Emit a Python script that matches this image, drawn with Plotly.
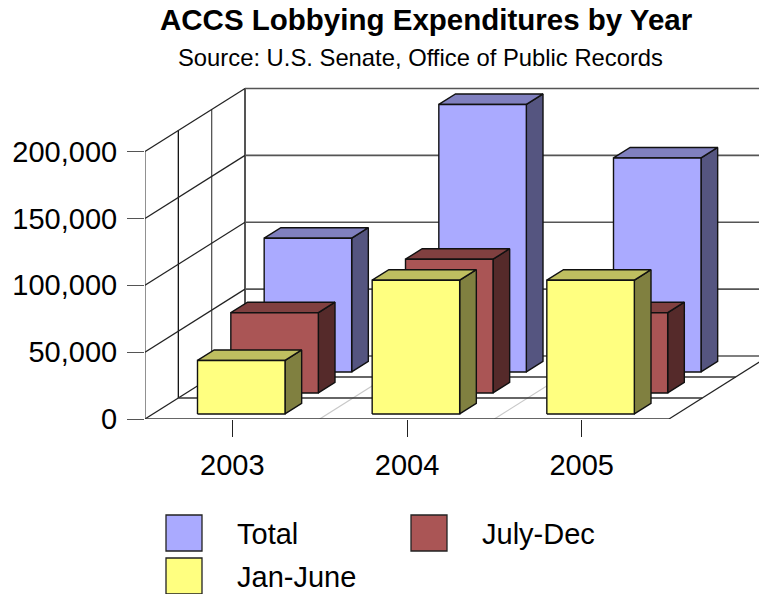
import plotly.graph_objects as go

# ---- data ----
categories = ["2003", "2004", "2005"]
total = [100000, 200000, 160000]
july_dec = [60000, 100000, 60000]
jan_june = [40000, 100000, 100000]
y_ticks = [0, 50000, 100000, 150000, 200000]

W, H = 759, 594
# plot frame in page pixels
L, R, T, B = 145, 759, 80, 419
PX_PER_CAT = 524 / 3
PX_PER_UNIT = 267.5 / 200000
X_MAX = (R - L) / PX_PER_CAT
Y_MAX = (B - T) / PX_PER_UNIT
# one series slot of depth, in axis units
DX = (100 / 3) / PX_PER_CAT
DY = 21 / PX_PER_UNIT
BAR_W = 87.5 / PX_PER_CAT
BAR_LEFT = 44.5 / PX_PER_CAT
D0, D1 = 0.24, 0.74  # depth of the bar within its slot

N_CAT = len(categories)
N_SER = 3


def P(x, y, d):
    return x + d * DX, y + d * DY


def add_line(fig, pts, color, width):
    xs, ys = zip(*pts)
    fig.add_trace(go.Scatter(x=xs, y=ys, mode="lines", showlegend=False, hoverinfo="skip",
                             line=dict(color=color, width=width)))


fig = go.Figure()
top = y_ticks[-1]
# walls: left wall verticals and floor lines
for d in range(N_SER + 1):
    color = "#555555" if d in (0, 2, 3) else "#111111"
    add_line(fig, [P(0, 0, d), P(0, top, d)], color, 2 if d == 3 else 1.3)
# floor category separators
for c in range(1, N_CAT):
    add_line(fig, [P(c, 0, 0), P(c, 0, N_SER)], "#c8c8c8", 1.2)
for v in y_ticks:
    add_line(fig, [P(0, v, 0), P(0, v, N_SER)], "#222222", 1.2)
    add_line(fig, [P(0, v, N_SER), P(N_CAT, v, N_SER)], "#555555", 1.6)
for d in range(N_SER):
    add_line(fig, [P(0, 0, d), P(N_CAT, 0, d)], "#333333", 1.4)
add_line(fig, [P(N_CAT, 0, 0), P(N_CAT, 0, N_SER)], "#222222", 1.2)

series = [
    ("Total", total, 2, "#AAAAFF", "#8080BF", "#555580"),
    ("July-Dec", july_dec, 1, "#AA5555", "#804040", "#552A2A"),
    ("Jan-June", jan_june, 0, "#FFFF80", "#BFBF60", "#808040"),
]


def add_faces(name, color, polys):
    xs, ys = [], []
    for poly in polys:
        for p in poly + [poly[0]]:
            xs.append(p[0])
            ys.append(p[1])
        xs.append(None)
        ys.append(None)
    fig.add_trace(go.Scatter(x=xs, y=ys, mode="lines", fill="toself", fillcolor=color, name=name,
                             showlegend=False, hoverinfo="skip",
                             line=dict(color="#111111", width=1.4)))


for name, vals, slot, front, roof, side in series:
    fronts, roofs, sides = [], [], []
    for c, v in enumerate(vals):
        x0 = c + BAR_LEFT
        x1 = x0 + BAR_W
        a, b = slot + D0, slot + D1
        fronts.append([P(x0, 0, a), P(x1, 0, a), P(x1, v, a), P(x0, v, a)])
        roofs.append([P(x0, v, a), P(x1, v, a), P(x1, v, b), P(x0, v, b)])
        sides.append([P(x1, 0, a), P(x1, 0, b), P(x1, v, b), P(x1, v, a)])
    add_faces(name, side, sides)
    add_faces(name, roof, roofs)
    add_faces(name, front, fronts)


def px(x):
    return (x - L) / (R - L)


def py(y):
    return (B - y) / (B - T)


# legend (swatch page pixels, colour, label)
legend_items = [("Total", "#AAAAFF", 166, 515, 235), ("July-Dec", "#AA5555", 411, 515, 480),
                ("Jan-June", "#FFFF80", 166, 558, 235)]
shapes, annos = [], []
for label, color, sx, sy, tx in legend_items:
    shapes.append(dict(type="rect", xref="paper", yref="paper", x0=px(sx), x1=px(sx + 36),
                       y0=py(sy), y1=py(sy + 36), fillcolor=color, line=dict(color="#222222", width=1.3)))
    annos.append(dict(xref="paper", yref="paper", x=px(tx), y=py(sy + 19), text=label, showarrow=False,
                      xanchor="left", yanchor="middle", font=dict(size=29)))
annos.append(dict(xref="paper", yref="paper", x=px(426), y=py(20), text="<b>ACCS Lobbying Expenditures by Year</b>",
                  showarrow=False, xanchor="center", yanchor="middle", font=dict(size=29.5)))
annos.append(dict(xref="paper", yref="paper", x=px(420), y=py(58), text="Source: U.S. Senate, Office of Public Records",
                  showarrow=False, xanchor="center", yanchor="middle", font=dict(size=23.8)))

fig.update_layout(
    width=W, height=H, autosize=False,
    margin=dict(l=L, r=W - R, t=T, b=H - B, pad=0),
    paper_bgcolor="white", plot_bgcolor="white",
    font=dict(family="Liberation Sans, Arial, sans-serif", color="black"),
    showlegend=False, shapes=shapes, annotations=annos,
    xaxis=dict(range=[0, X_MAX], tickmode="array", tickvals=[c + 0.5 for c in range(N_CAT)], ticktext=categories,
               ticks="outside", ticklen=17, tickcolor="#222222", tickwidth=1.3, showgrid=False, zeroline=False,
               showline=False, tickfont=dict(size=29), ticklabelstandoff=3),
    yaxis=dict(range=[0, Y_MAX], tickmode="array", tickvals=y_ticks, ticktext=[f"{v:,}" for v in y_ticks],
               ticks="outside", ticklen=17, tickcolor="#555555", tickwidth=1.3, showgrid=False, zeroline=False,
               showline=False, tickfont=dict(size=29), ticklabelstandoff=4),
)
fig.write_html("out.html", config=dict(displayModeBar=False),
               post_script="document.body.style.margin='0';document.body.style.overflow='hidden';")
